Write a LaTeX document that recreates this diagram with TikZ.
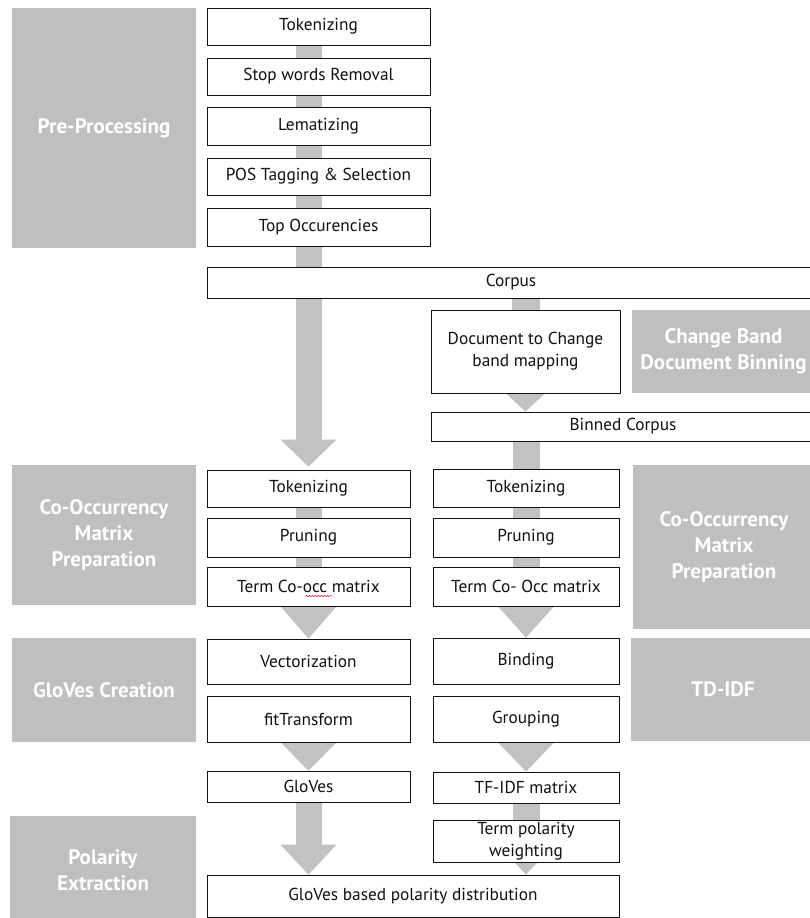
\documentclass[tikz,border=0pt]{standalone}
\usepackage{fontspec}
\setmainfont{PT Sans}
\usetikzlibrary{calc,shadows,backgrounds,decorations.pathmorphing}
\definecolor{bandgray}{HTML}{BFBFBF}
\definecolor{conngray}{HTML}{C2C2C2}
\definecolor{ink}{HTML}{111111}
\definecolor{spellred}{HTML}{E02828}
% vertical connector bar of half width #3 from #1 to #2
\newcommand{\connbar}[3]{\fill[conngray] ($(#1)+(-#3,0)$) rectangle ($(#2)+(#3,0)$);}
% triangular arrow head: base centred at #1, half width #3, tip at #2
\newcommand{\connhead}[3]{\fill[conngray] ($(#1)+(-#3,0)$) -- ($(#1)+(#3,0)$) -- (#2) -- cycle;}
\begin{document}
\begin{tikzpicture}[x=1pt,y=-1pt,
  boxdim/.style 2 args={minimum width=#1pt,minimum height=#2pt},
  stepbox/.style={draw=ink,line width=0.8pt,fill=white,text=ink,
    font=\fontsize{17.3}{22}\selectfont,align=center,inner sep=0pt,
    drop shadow={shadow xshift=1.2pt,shadow yshift=-1.2pt,opacity=0.5}},
  phase/.style={fill=bandgray,text=white,
    font=\bfseries\fontsize{21}{26}\selectfont,align=center,inner sep=0pt},
]
\useasboundingbox (0,0) rectangle (810,918);

% phase labels
\node[phase,boxdim={184}{240}] (g1) at (104,128) {Pre-Processing};
\node[phase,boxdim={183}{83}] (g2) at (723.5,351.5) {Change Band\\Document Binning};
\node[phase,boxdim={184}{140}] (g3) at (104,535) {Co-Occurrency\\Matrix\\Preparation};
\node[phase,boxdim={182}{164}] (g4) at (724,547) {Co-Occurrency\\Matrix\\Preparation};
\node[phase,boxdim={184}{104}] (g5) at (104,690) {GloVes Creation};
\node[phase,boxdim={184}{103}] (g6) at (723,689.5) {TD-IDF};
\node[phase,boxdim={186}{109}] (g7) at (103,870.5) {Polarity\\Extraction};

% pre-processing chain
\node[stepbox,boxdim={223}{37}] (p1) at (318.5,26.5) {Tokenizing};
\node[stepbox,boxdim={223}{37}] (p2) at (318.5,76.5) {Stop words Removal};
\node[stepbox,boxdim={223}{38}] (p3) at (318.5,126) {Lematizing};
\node[stepbox,boxdim={223}{37}] (p4) at (318.5,176.5) {POS Tagging \& Selection};
\node[stepbox,boxdim={223}{38}] (p5) at (318.5,227) {Top Occurencies};
\node[stepbox,boxdim={608}{31}] (corpus) at (511,282.5) {Corpus};

% change band binning
\node[stepbox,boxdim={189}{83}] (doc) at (525.5,351.5) {Document to Change\\band mapping};
\node[stepbox,boxdim={384}{29}] (binned) at (623,426.5) {Binned Corpus};

% left branch
\node[stepbox,boxdim={203}{37}] (l1) at (308.5,488.5) {Tokenizing};
\node[stepbox,boxdim={203}{39}] (l2) at (308.5,537.5) {Pruning};
\node[stepbox,boxdim={203}{39}] (l3) at (308.5,586.5) {Term Co-occ matrix};
\node[stepbox,boxdim={203}{45}] (l4) at (308.5,661.5) {Vectorization};
\node[stepbox,boxdim={203}{46}] (l5) at (308.5,719) {fitTransform};
\node[stepbox,boxdim={203}{31}] (l6) at (308.5,786.5) {GloVes};

% right branch
\node[stepbox,boxdim={186}{38}] (r1) at (526,488) {Tokenizing};
\node[stepbox,boxdim={186}{39}] (r2) at (526,537.5) {Pruning};
\node[stepbox,boxdim={186}{39}] (r3) at (526,586.5) {Term Co- Occ matrix};
\node[stepbox,boxdim={186}{46}] (r4) at (526,661) {Binding};
\node[stepbox,boxdim={186}{46}] (r5) at (526,719) {Grouping};
\node[stepbox,boxdim={186}{31}] (r6) at (526,787.5) {TF-IDF matrix};
\node[stepbox,boxdim={186}{42}] (r7) at (526,841) {Term polarity\\weighting};

% result
\node[stepbox,boxdim={412}{42}] (final) at (413,896) {GloVes based polarity distribution};

% spell-check mark under "occ"
\draw[spellred,line width=0.6pt,decorate,decoration={snake,amplitude=0.7pt,segment length=3pt}]
  ($(l3.center)+(-3,9.5)$) -- ($(l3.center)+(23,9.5)$);

% connectors, behind the boxes
\begin{pgfonlayer}{background}
  % pre-processing spine down to the left branch
  \connbar{l1.north |- p1.center}{$(l1.north)+(0,-30)$}{13}
  \connhead{$(l1.north)+(0,-30)$}{$(l1.north)+(0,-3)$}{28}
  % corpus to binning
  \connbar{r1 |- corpus.center}{r1 |- doc.center}{14}
  \connhead{doc.south}{doc.south |- binned.north}{19.5}
  % right branch
  \connbar{r1 |- binned.center}{r3.center}{13.5}
  \connhead{r3.south}{r4.north}{28}
  \connhead{r5.south}{r6.north}{28}
  \connbar{r6.center}{r7.center}{13.5}
  \connhead{$(r7 |- final.north)+(0,-30)$}{r7 |- final.north}{28}
  % left branch
  \connbar{l1.center}{l3.center}{13}
  \connhead{l3.south}{l4.north}{28}
  \connhead{l5.south}{l6.north}{28}
  \connbar{l6.center}{$(l6 |- final.north)+(0,-30)$}{13}
  \connhead{$(l6 |- final.north)+(0,-30)$}{l6 |- final.north}{28}
\end{pgfonlayer}
\end{tikzpicture}
\end{document}
